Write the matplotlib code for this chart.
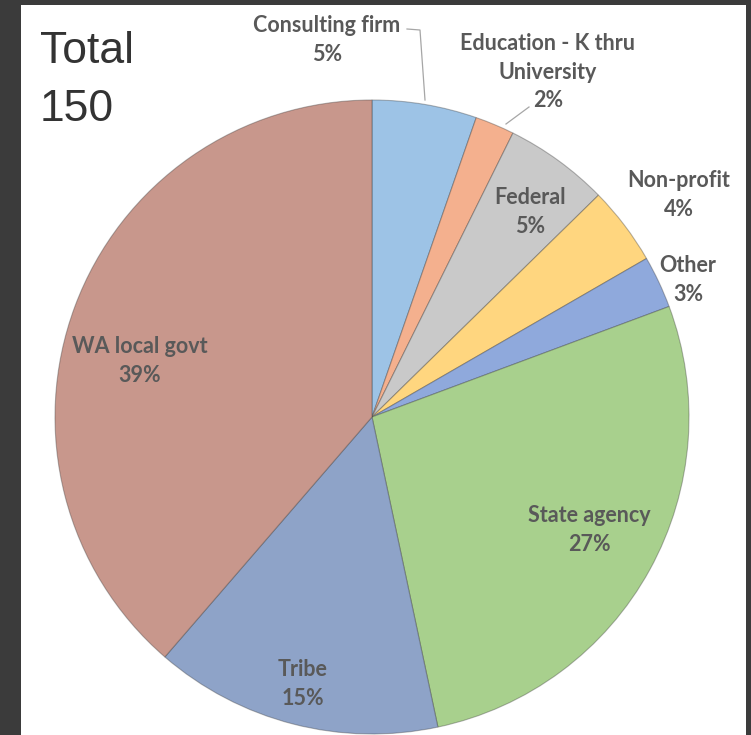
import matplotlib
matplotlib.use("Agg")
import matplotlib.pyplot as plt

# ---- data -------------------------------------------------------------
categories = ["Consulting firm", "Education - K thru\nUniversity", "Federal",
              "Non-profit", "Other", "State agency", "Tribe", "WA local govt"]
counts = [8, 3, 8, 6, 4, 41, 22, 58]
total = sum(counts)

colors = ["#9dc3e6", "#f4b08e", "#c9c9c9", "#ffd67f", "#8fa9dc",
          "#a8d08d", "#8ea3c8", "#c8978c"]

# label centres in pixel coords (x from left, y from top)
label_pos = [(327, 40), (548, 72), (530, 212), (679, 195), (688, 280),
             (589, 530), (303, 684), (140, 361)]

W, H = 751, 735
fig = plt.figure(figsize=(W / 100, H / 100), dpi=100)
fig.patch.set_facecolor("#3b3b3b")

ax = fig.add_axes([0, 0, 1, 1])

# white chart panel
ax.add_patch(plt.Rectangle((21, 0), 746 - 21, H - 5, facecolor="white",
                           edgecolor="none", zorder=0))

cx, cy, r = 372, H - 417, 317
ax.pie(counts, colors=colors, startangle=90, counterclock=False,
       center=(cx, cy), radius=r, frame=True,
       wedgeprops=dict(edgecolor=(0.2, 0.2, 0.2, 0.35), linewidth=0.8))
ax.set_xlim(0, W)
ax.set_ylim(0, H)
ax.set_aspect("equal")
ax.axis("off")

for name, n, (lx, ly) in zip(categories, counts, label_pos):
    ax.text(lx, H - ly, f"{name}\n{round(100 * n / total)}%", ha="center",
            va="center", fontsize=15.5, fontweight="bold", family="Lato",
            color="#595959", linespacing=1.45, zorder=5)

# leader lines
ax.plot([407, 420, 425], [H - 29, H - 30, H - 100], color="#a6a6a6", lw=0.9)
ax.plot([529, 506], [H - 107, H - 124], color="#a6a6a6", lw=0.9)

ax.text(40, H - 63, "Total", ha="left", va="baseline", fontsize=32,
        family="Liberation Sans", color="#333333")
ax.text(40, H - 121, "150", ha="left", va="baseline", fontsize=32,
        family="Liberation Sans", color="#333333")

fig.savefig("out.png", dpi=100, facecolor=fig.get_facecolor())
